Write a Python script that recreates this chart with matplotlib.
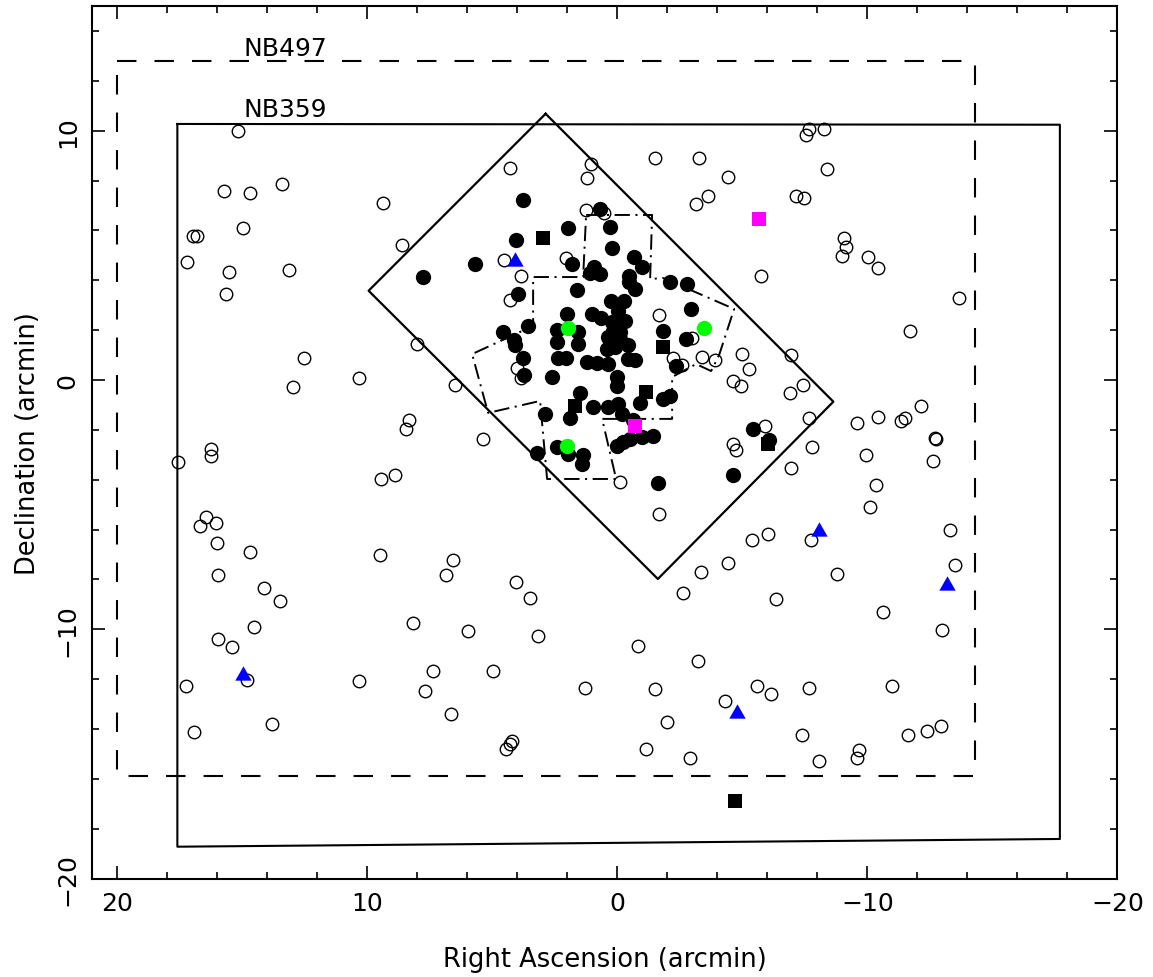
import matplotlib
matplotlib.use("Agg")
import matplotlib.pyplot as plt
from matplotlib.ticker import MultipleLocator
import numpy as np

plt.rcParams['font.family'] = ['DejaVu Sans']
plt.rcParams['lines.scale_dashes'] = False

# ---- field outlines (arcmin) ----
nb497_x = [20.0, -14.3, -14.3, 20.0, 20.0]
nb497_y = [12.8, 12.8, -15.87, -15.87, 12.8]

nb359_x = [17.6, -17.7, -17.7, 17.6, 17.6]
nb359_y = [10.27, 10.24, -18.41, -18.72, 10.27]

tilted_x = [2.87, -8.64, -1.62, 9.95, 2.87]
tilted_y = [10.68, -0.87, -7.98, 3.58, 10.68]

mosaic_x = [1.25, -1.39, -1.31, -1.83, -4.67, -4.07, -3.75, -3.15, -2.19, -2.19,
            0.61, 0.05, 2.81, 3.09, 5.17, 5.81, 3.37, 3.37, 1.37, 1.25]
mosaic_y = [6.62, 6.62, 4.05, 4.09, 2.85, 1.0, 0.36, 0.64, 0.12, -1.56,
            -1.56, -3.97, -3.97, -0.84, -1.32, 1.04, 2.17, 4.13, 4.13, 6.62]

# ---- sources (arcmin) ----
open_ra = [15.18, 15.72, 14.69, 13.41, 9.36, 14.98, 16.96, 16.82, 17.2, 15.54,
           13.14, 15.64, 8.6, 12.53, 12.97, 10.33, 8.02, 16.25, 16.26, 17.56,
           9.46, 8.89, 8.35, 8.45, 16.45, 16.69, 16.06, 16.0, 14.69, 9.49,
           15.96, 14.13, 13.49, 14.53, 15.96, 15.4, 14.8, 10.33, 17.26, 13.8,
           16.92,
           5.38, 6.56, 6.85, 4.06, 3.49, 8.16, 5.97, 3.16, 7.38, 4.97,
           7.69, 6.66, 1.28, 4.22, 4.29, 4.45, -0.82, -1.5, -1.15, -2.91,
           -1.98, -3.24, -4.31, -5.6, -6.14, -2.62, -3.34, -4.42, -5.38, -6.03,
           -6.34, -1.67, -0.11, -6.94, -4.64, -4.74, -5.91,
           -7.66, -9.6, -10.43, -11.35, -11.51, -12.15, -12.71, -12.73, -12.64, -7.78,
           -9.95, -10.35, -10.11, -7.74, -13.3, -13.52, -8.78, -10.62, -13.0, -7.66,
           -11.0, -7.4, -8.06, -9.67, -9.59, -11.64, -12.39, -12.96,
           -7.68, -7.54, -8.28, -8.4, -7.14, -7.48, -9.06, -9.15, -8.98, -10.02,
           -10.42, -5.75, -13.68, -11.7, -6.94, -7.44, -6.91,
           4.29, 1.05, 1.2, -1.52, -3.28, -4.42, -3.64, -3.16, 1.25, 0.53,
           4.53, 3.85, 4.29, 2.05, 6.49, -1.66, -2.98, -3.38, -3.92, -5.0,
           -5.28, -4.62, -4.95, -2.24, -2.58, 4.0, 3.86]
open_dec = [10.0, 7.59, 7.5, 7.85, 7.09, 6.08, 5.79, 5.76, 4.75, 4.34,
            4.41, 3.45, 5.42, 0.87, -0.29, 0.07, 1.44, -2.77, -3.06, -3.28,
            -3.97, -3.81, -1.59, -1.97, -5.51, -5.84, -5.74, -6.55, -6.91, -7.02,
            -7.82, -8.33, -8.88, -9.92, -10.39, -10.7, -12.03, -12.06, -12.29, -13.8,
            -14.13,
            -2.35, -7.23, -7.82, -8.09, -8.73, -9.76, -10.06, -10.27, -11.66, -11.66,
            -12.49, -13.4, -12.37, -14.47, -14.6, -14.8, -10.66, -12.41, -14.8, -15.16,
            -13.73, -11.26, -12.89, -12.26, -12.6, -8.56, -7.71, -7.34, -6.42, -6.18,
            -8.78, -5.36, -4.1, -3.53, -2.57, -2.8, -1.83,
            -1.52, -1.74, -1.47, -1.63, -1.52, -1.04, -2.34, -2.36, -3.25, -2.7,
            -3.0, -4.21, -5.09, -6.41, -6.0, -7.41, -7.77, -9.32, -10.02, -12.34,
            -12.29, -14.24, -15.3, -14.83, -15.17, -14.23, -14.09, -13.87,
            10.07, 9.83, 10.07, 8.45, 7.39, 7.31, 5.68, 5.35, 4.96, 4.95,
            4.5, 4.18, 3.3, 1.98, 1.0, -0.19, -0.52,
            8.5, 8.66, 8.1, 8.89, 8.89, 8.15, 7.39, 7.07, 6.82, 6.69,
            4.81, 4.18, 3.2, 4.88, -0.19, 2.61, 1.67, 0.91, 0.81, 1.04,
            0.44, -0.05, -0.25, 0.87, 0.61, 0.47, 0.07]

filled_ra = [3.77, 7.77, 5.7, 4.05, 1.96, 0.7, 0.31, 0.23, 1.8, 0.93,
             0.69, 1.1, -0.68, -0.97, -0.47, -0.46, -0.71, 1.63, -2.1, -2.8,
             -2.95, 3.96, 0.25, -0.28, -0.01, 2.02, 1.0, 0.65, -0.3, 0.22,
             0.16, 0.36, -0.11, 0.16, -0.11, -0.44, 0.42, 0.09, 3.57, 4.57,
             4.12, 4.09, 2.4, 2.42, 1.58, 1.56, -1.84, -2.75, 3.78, 2.38,
             2.05, 1.22, 0.82, 0.36, -0.44, -0.71, -2.35, 3.72, 2.6, 0.02,
             0.02, 1.49, 0.96, 0.36, -0.04, -0.18, -0.91, -1.84, -2.11, 2.89,
             1.89, -0.64, 0.02, -0.24, -0.51, -0.98, -1.44, 2.42, 1.96, 3.22,
             1.37, 1.4, -1.64, -4.64, -5.41, -6.07]
filled_dec = [7.23, 4.12, 4.64, 5.6, 6.11, 6.85, 6.15, 5.29, 4.65, 4.52,
              4.25, 4.3, 4.92, 4.52, 4.18, 3.95, 3.65, 3.61, 3.92, 3.85,
              2.86, 3.44, 3.18, 3.18, 2.75, 2.66, 2.65, 2.48, 2.36, 2.31,
              1.98, 1.71, 1.91, 1.64, 1.64, 1.4, 1.24, 1.31, 2.16, 1.91,
              1.62, 1.4, 2.02, 1.51, 1.91, 1.44, 1.98, 1.64, 0.87, 0.87,
              0.87, 0.71, 0.67, 0.64, 0.84, 0.8, 0.57, 0.19, 0.11, 0.11,
              -0.23, -0.52, -1.08, -1.1, -0.96, -1.36, -0.92, -0.78, -0.63, -1.35,
              -1.52, -1.6, -2.64, -2.5, -2.37, -2.27, -2.23, -2.7, -2.97, -2.93,
              -3.02, -3.37, -4.12, -3.82, -1.98, -2.41]

green_ra = [1.96, -3.47, 2.0]
green_dec = [2.07, 2.07, -2.63]

square_ra = [2.98, -1.82, -1.15, 1.69, -6.03, -4.7]
square_dec = [5.7, 1.31, -0.47, -1.03, -2.57, -16.89]

magenta_ra = [-5.67, -0.71]
magenta_dec = [6.46, -1.83]

tri_ra = [4.09, -8.08, -13.2, 14.97, -4.8]
tri_dec = [4.85, -5.96, -8.13, -11.74, -13.29]

fig = plt.figure(figsize=(11.53, 9.78), dpi=100)
ax = fig.add_axes([0.0801, 0.1006, 0.889, 0.8922])
ax.set_xlim(21, -20)
ax.set_ylim(-20, 15)

# field outlines
ax.plot(nb497_x, nb497_y, color='black', lw=1.5, linestyle=(0, (14, 13)),
        solid_joinstyle='miter', zorder=2)
ax.plot(nb359_x, nb359_y, color='black', lw=1.5, zorder=2)
ax.plot(tilted_x, tilted_y, color='black', lw=1.6, zorder=2)
ax.plot(mosaic_x, mosaic_y, color='black', lw=1.4,
        linestyle=(0, (11, 4, 1.5, 4)), zorder=2)

ax.text(14.97, 13.05, 'NB497', fontsize=18, ha='left', va='baseline')
ax.text(14.97, 10.6, 'NB359', fontsize=18, ha='left', va='baseline')

# sources
ax.plot(open_ra, open_dec, linestyle='none', marker='o', ms=9.0,
        mfc='none', mec='black', mew=1.0, zorder=3)
ax.plot(filled_ra, filled_dec, linestyle='none', marker='o', ms=11.0,
        mfc='black', mec='black', mew=0, zorder=4)
ax.plot(green_ra, green_dec, linestyle='none', marker='o', ms=11.0,
        mfc='#00ff00', mec='#00ff00', mew=0, zorder=5)
ax.plot(square_ra, square_dec, linestyle='none', marker='s', ms=10.2,
        mfc='black', mec='black', mew=0, zorder=5)
ax.plot(magenta_ra, magenta_dec, linestyle='none', marker='s', ms=10.2,
        mfc='#ff00ff', mec='#ff00ff', mew=0, zorder=5)
tri = [(0, 0.875), (-1, -0.875), (1, -0.875)]
ax.plot(tri_ra, tri_dec, linestyle='none', marker=tri, ms=11.8,
        mfc='#0000ff', mec='#0000ff', mew=0, zorder=5)

# axes frame and ticks
for sp in ax.spines.values():
    sp.set_linewidth(1.5)
ax.xaxis.set_major_locator(MultipleLocator(10))
ax.xaxis.set_minor_locator(MultipleLocator(2))
ax.yaxis.set_major_locator(MultipleLocator(10))
ax.yaxis.set_minor_locator(MultipleLocator(2))
ax.tick_params(which='both', direction='in', top=True, right=True, width=1.2)
ax.tick_params(which='major', length=9.5)
ax.tick_params(which='minor', length=5)
ax.tick_params(axis='x', which='major', labelsize=18, pad=9)
ax.tick_params(axis='y', which='major', labelsize=18, pad=9, labelrotation=90)
for lab in ax.get_yticklabels():
    lab.set_va('center')

ax.set_xlabel('Right Ascension (arcmin)', fontsize=18.5)
ax.xaxis.set_label_coords(0.5, -0.0917)
ax.xaxis.label.set_va('center')
ax.set_ylabel('Declination (arcmin)', fontsize=18.5)
ax.yaxis.set_label_coords(-0.0627, 0.5)
ax.yaxis.label.set_va('center')

fig.savefig('out.png', dpi=100)
